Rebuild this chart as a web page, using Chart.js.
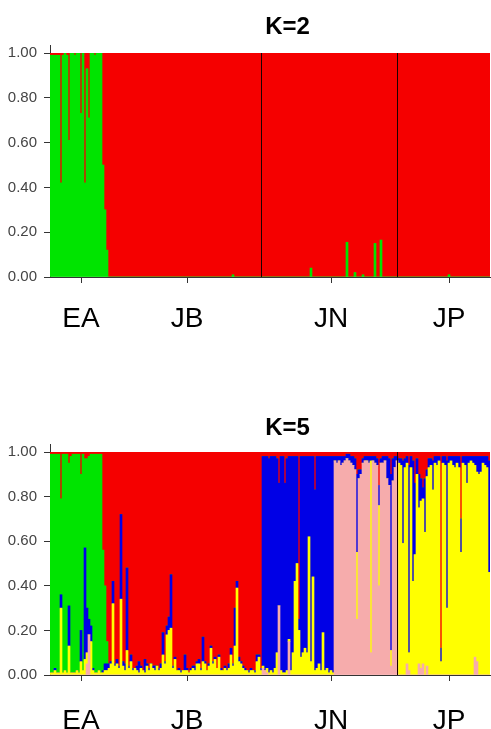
<!DOCTYPE html>
<html><head><meta charset="utf-8">
<script src="https://cdn.jsdelivr.net/npm/chart.js@4/dist/chart.umd.min.js"></script>
<style>
html,body{margin:0;padding:0;background:#fff;width:491px;height:729px;overflow:hidden;position:relative}
canvas{position:absolute;left:0}
#c1{top:0}
#c2{top:400px}
</style></head><body>
<canvas id="c1" width="491" height="340"></canvas>
<canvas id="c2" width="491" height="329"></canvas>
<script>
// ---- groups / categories ----
const groupNames = ['EA', 'JB', 'JN', 'JP'];
const groupSizes = [29, 77, 68, 46];          // individuals per population (220 total)
const groupLabelAt = [15, 68, 140, 199];      // individual index under each population label
const yTicks = [0, 0.2, 0.4, 0.6, 0.8, 1.0];

// ---- K=2 membership (per individual) ----
const k2Green = [
 .99,.99,.99,.99,.99,.42,.99,1,.99,.61,1,1,.99,1,1,.73,1,.42,.93,.71,
 1,1,.99,1,1,1,.5,.3,.12,0,0,0,0,0,0,0,0,0,0,0,
 0,0,0,0,0,0,0,0,0,0,0,0,0,0,0,0,0,0,0,0,
 0,0,0,0,0,0,0,0,0,0,0,0,0,0,0,0,0,0,0,0,
 0,0,0,0,0,0,0,0,0,0,0,.01,0,0,0,0,0,0,0,0,
 0,0,0,0,0,0,0,0,0,0,0,0,0,0,0,0,0,0,0,0,
 0,0,0,0,0,0,0,0,0,0,.04,0,0,0,0,0,0,0,0,0,
 0,0,0,0,0,0,0,0,.155,0,0,0,.02,0,0,0,.01,0,0,0,
 0,0,.15,0,0,.165,0,0,0,0,0,0,0,0,0,0,0,0,0,0,
 0,0,0,0,0,0,0,0,0,0,0,0,0,0,0,0,0,0,0,.01,
 0,0,0,0,0,0,0,0,0,0,0,0,0,0,0,0,0,0,0,0
];
const k2Red = [
 .01,.01,.01,.01,.01,.58,.01,0,.01,.39,0,0,.01,0,0,.27,0,.58,.07,.29,
 0,0,.01,0,0,0,.5,.7,.88,1,1,1,1,1,1,1,1,1,1,1,
 1,1,1,1,1,1,1,1,1,1,1,1,1,1,1,1,1,1,1,1,
 1,1,1,1,1,1,1,1,1,1,1,1,1,1,1,1,1,1,1,1,
 1,1,1,1,1,1,1,1,1,1,1,.99,1,1,1,1,1,1,1,1,
 1,1,1,1,1,1,1,1,1,1,1,1,1,1,1,1,1,1,1,1,
 1,1,1,1,1,1,1,1,1,1,.96,1,1,1,1,1,1,1,1,1,
 1,1,1,1,1,1,1,1,.845,1,1,1,.98,1,1,1,.99,1,1,1,
 1,1,.85,1,1,.835,1,1,1,1,1,1,1,1,1,1,1,1,1,1,
 1,1,1,1,1,1,1,1,1,1,1,1,1,1,1,1,1,1,1,.99,
 1,1,1,1,1,1,1,1,1,1,1,1,1,1,1,1,1,1,1,1
];

// ---- K=5 membership (per individual), stacked bottom -> top ----
const k5Pink = [
 0,0,0,0,0,0,0,0,0,0,0,0,0,0,0,0,0,0,.05,.18,
 0,0,0,0,0,0,0,0,0,0,0,0,0,0,0,0,0,0,0,0,
 0,0,0,0,0,0,0,0,0,0,0,0,0,0,0,0,0,0,0,0,
 0,0,0,0,0,0,0,0,0,0,0,0,0,0,0,0,0,0,0,0,
 0,0,0,0,0,0,0,0,0,0,0,0,0,0,0,0,0,0,0,0,
 0,0,0,0,0,0,.03,.02,.01,0,0,0,0,0,.31,0,0,0,0,.15,
 0,0,0,0,0,0,0,0,0,0,0,0,0,0,0,0,0,0,0,0,
 0,0,.96,.95,.96,.94,.95,.96,.97,.96,.95,.94,.92,.25,.88,.90,.95,.96,.96,.95,
 .10,.96,.95,.94,.40,.95,.95,.96,.88,.85,.04,.87,.93,.96,0,0,0,0,.05,.02,
 0,0,0,0,.05,.03,.05,0,.04,0,0,0,0,0,0,0,0,0,0,0,
 0,0,0,0,0,0,0,0,0,0,0,0,.08,.06,0,0,0,0,0,0
];
const k5Yellow = [
 .01,.01,.02,.01,.01,.30,.01,.02,.01,.13,.01,.01,.01,.02,.01,.06,.02,.07,.05,0,
 .15,.02,.01,.01,.02,.01,.01,.02,.02,.03,.05,.32,.04,.05,.03,.34,.04,.02,.11,.03,
 .06,.02,.03,.02,.01,.03,.02,.01,.04,.02,.05,.03,.02,.04,.02,.03,.09,.05,.18,.20,
 .21,.03,.07,.02,.02,.01,.02,.02,.02,.01,.02,.03,.02,.05,.05,.02,.06,.05,.02,.04,
 .12,.05,.07,.03,.08,.02,.02,.03,.02,.03,.09,.04,.13,.39,.06,.05,.03,.02,.02,.01,
 .02,.02,.01,.06,.08,.02,.01,0,.02,.01,.02,.01,.03,.10,0,.02,.01,.01,.02,.01,
 .02,.10,.42,.50,.20,.08,.10,.12,.10,.62,.06,.44,.02,.03,.05,.02,.19,.02,.03,.01,
 .02,.01,0,0,0,0,0,0,0,0,0,0,0,.30,0,0,0,0,0,0,
 .86,0,0,0,.36,0,0,0,0,0,.07,0,0,0,.95,.94,.59,.93,.90,.08,
 .93,.42,.54,.90,.70,.75,.74,.64,.85,.93,.94,.83,.95,.94,.96,.06,.95,.94,.30,.95,
 .96,.94,.93,.95,.93,.55,.95,.94,.86,.95,.96,.95,.86,.85,.90,.91,.95,.94,.93,.46
];
const k5Blue = [
 0,0,.01,0,0,.06,0,0,0,.18,0,0,0,0,0,.14,0,.50,.20,.07,
 .07,.01,0,0,0,0,.01,.03,.03,.02,.01,.10,.01,.02,.01,.38,.02,.03,.37,.01,
 .03,.01,0,.02,.05,.01,0,.06,.01,.01,0,.01,.02,0,.01,.02,.10,.01,.04,.06,
 .24,.01,.01,0,.01,.01,0,.07,.01,0,.01,.01,.02,.01,.02,.01,.11,.01,0,.01,
 .01,.01,.01,0,.01,.01,0,.01,.01,.02,.03,.01,.17,.03,.02,.01,.01,.01,0,.01,
 .01,0,.01,.03,.01,.01,.94,.96,.95,.96,.96,.97,.95,.87,.55,.96,.97,.85,.95,.82,
 .96,.88,.56,.48,.05,.90,.88,.86,.88,.36,.92,.54,.81,.95,.93,.96,.79,.96,.95,.97,
 .96,.97,.02,.03,.02,.04,.03,.02,.02,.03,.03,.04,.05,.35,.04,.02,.02,.02,.02,.03,
 .02,.02,.03,.03,.09,.02,.03,.02,.10,.12,.79,.10,.05,.02,.02,.03,.37,.04,.03,.84,
 .05,.54,.32,.07,.15,.10,.05,.24,.03,.04,.03,.13,.03,.04,.02,.06,.03,.04,.66,.03,
 .02,.04,.05,.03,.05,.15,.03,.04,.12,.03,.02,.03,.04,.07,.08,.07,.03,.04,.05,.50
];
const k5Green = [
 .98,.98,.96,.98,.98,.43,.98,.97,.98,.64,.97,.98,.98,.97,.98,.70,.97,.40,.67,.73,
 .77,.96,.98,.98,.97,.98,.54,.35,.10,0,0,0,0,0,0,0,0,0,0,0,
 0,0,0,0,0,0,0,0,0,0,0,0,0,0,0,0,0,0,0,0,
 0,0,0,0,0,0,0,0,0,0,0,0,0,0,0,0,0,0,0,0,
 0,0,0,0,0,0,0,0,0,0,0,0,0,0,0,0,0,0,0,0,
 0,0,0,0,0,0,0,0,0,0,0,0,0,0,0,0,0,0,0,0,
 0,0,0,0,0,0,0,0,0,0,0,0,0,0,0,0,0,0,0,0,
 0,0,0,0,0,0,0,0,0,0,0,0,0,0,0,0,0,0,0,0,
 0,0,0,0,0,0,0,0,0,0,0,0,0,0,0,0,0,0,0,0,
 0,0,0,0,0,0,0,0,0,0,0,0,0,0,0,0,0,0,0,0,
 0,0,0,0,0,0,0,0,0,0,0,0,0,0,0,0,0,0,0,0
];
const k5Red = [
 .01,.01,.01,.01,.01,.21,.01,.01,.01,.05,.02,.01,.01,.01,.01,.10,.01,.03,.03,.02,
 .01,.01,.01,.01,.01,.01,.44,.60,.85,.95,.94,.58,.95,.93,.96,.28,.94,.95,.52,.96,
 .91,.97,.97,.96,.94,.96,.98,.93,.95,.97,.95,.96,.96,.96,.97,.95,.81,.94,.78,.74,
 .55,.96,.92,.98,.97,.98,.98,.91,.97,.99,.97,.96,.96,.94,.93,.97,.83,.94,.98,.95,
 .87,.94,.92,.97,.91,.97,.98,.96,.97,.95,.88,.95,.70,.58,.92,.94,.96,.97,.98,.98,
 .97,.98,.98,.91,.91,.97,.02,.02,.02,.03,.02,.02,.02,.03,.14,.02,.02,.14,.03,.02,
 .02,.02,.02,.02,.75,.02,.02,.02,.02,.02,.02,.02,.17,.02,.02,.02,.02,.02,.02,.02,
 .02,.02,.02,.02,.02,.02,.02,.02,.01,.01,.02,.02,.03,.10,.08,.08,.03,.02,.02,.02,
 .02,.02,.02,.03,.15,.03,.02,.02,.02,.03,.10,.03,.02,.02,.03,.03,.04,.03,.02,.06,
 .02,.04,.14,.03,.10,.12,.16,.12,.08,.03,.03,.04,.02,.02,.02,.88,.02,.02,.04,.02,
 .02,.02,.02,.02,.02,.30,.02,.02,.02,.02,.02,.02,.02,.02,.02,.02,.02,.02,.02,.04
];

// ---- colours ----
const C = { green:'#00e400', red:'#f50000', blue:'#0000e6', pink:'#f6acac', yellow:'#ffff00' };

// ---- build categories from groups ----
const individuals = [];
const groupStart = [];
groupSizes.forEach((n, g) => { groupStart.push(individuals.length); for (let k = 0; k < n; k++) individuals.push(groupNames[g] + '_' + (k + 1)); });
const tickText = individuals.map((_, i) => { const g = groupLabelAt.indexOf(i); return g >= 0 ? groupNames[g] : ''; });

const tickFont = { family: '"Liberation Sans", Arial, sans-serif', size: 15 };
const labFont = { family: '"Liberation Sans", Arial, sans-serif', size: 28 };

function makeChart(id, title, datasets, cfg) {
  const ctx = document.getElementById(id);
  return new Chart(ctx, {
    type: 'bar',
    data: {
      labels: individuals,
      datasets: datasets.map(d => ({ label: d[0], data: d[1], backgroundColor: d[2], borderWidth: 0,
        barPercentage: 1, categoryPercentage: 1 }))
    },
    options: {
      responsive: false, animation: false, devicePixelRatio: 1,
      layout: { padding: { top: cfg.top, right: 1, left: 0, bottom: 0 } },
      plugins: { legend: { display: false }, tooltip: { enabled: false }, title: { display: false } },
      scales: {
        x: {
          stacked: true,
          grid: { offset: false, drawOnChartArea: false, drawTicks: true, tickLength: 6,
                  color: c => (tickText[c.index] ? '#333' : 'rgba(0,0,0,0)') },
          border: { display: true, color: '#333', width: 1 },
          ticks: { autoSkip: false, maxRotation: 0, minRotation: 0, padding: cfg.labPad,
                   font: labFont, color: '#000', callback: (v, i) => tickText[i] },
          afterFit: s => { s.height = cfg.xh; s.paddingLeft = 0; s.paddingRight = 0; }
        },
        y: {
          stacked: true, min: 0, max: 1,
          afterBuildTicks: s => { s.ticks = yTicks.map(v => ({ value: v })); },
          grid: { drawOnChartArea: false, drawTicks: true, tickLength: 6, color: '#333' },
          border: { display: true, color: '#333', width: 1 },
          ticks: { padding: 7, font: tickFont, color: '#444', callback: v => Number(v).toFixed(2) },
          afterFit: s => { s.width = 50; }
        }
      }
    },
    plugins: [{
      id: 'deco',
      afterDatasetsDraw(chart) {
        const { ctx, chartArea, scales } = chart;
        ctx.save();
        ctx.strokeStyle = '#1a0000'; ctx.lineWidth = 1;
        cfg.lines.forEach(g => {
          const b = groupStart[g];
          const x = Math.round((scales.x.getPixelForValue(b - 1) + scales.x.getPixelForValue(b)) / 2) - 0.5;
          ctx.beginPath(); ctx.moveTo(x, chartArea.top); ctx.lineTo(x, chartArea.bottom); ctx.stroke();
        });
        // short extension of the value axis above 1.00
        ctx.strokeStyle = '#333';
        ctx.beginPath(); ctx.moveTo(chartArea.left + 0.5, chartArea.top - 8); ctx.lineTo(chartArea.left + 0.5, chartArea.top); ctx.stroke();
        ctx.restore();
      },
      afterDraw(chart) {
        const ctx = chart.ctx;
        ctx.save();
        ctx.font = 'bold 24px "Liberation Sans", Arial, sans-serif';
        ctx.fillStyle = '#000'; ctx.textAlign = 'center'; ctx.textBaseline = 'middle';
        ctx.fillText(title, 287.5, cfg.titleY);
        ctx.restore();
      }
    }]
  });
}

makeChart('c1', 'K=2', [
  ['cluster 1', k2Green, C.green],
  ['cluster 2', k2Red, C.red]
], { top: 53, xh: 63, labPad: 19, titleY: 27, lines: [2, 3] });

makeChart('c2', 'K=5', [
  ['cluster 4', k5Pink, C.pink],
  ['cluster 5', k5Yellow, C.yellow],
  ['cluster 3', k5Blue, C.blue],
  ['cluster 1', k5Green, C.green],
  ['cluster 2', k5Red, C.red]
], { top: 52, xh: 54, labPad: 23, titleY: 28, lines: [3] });
</script>
</body></html>
